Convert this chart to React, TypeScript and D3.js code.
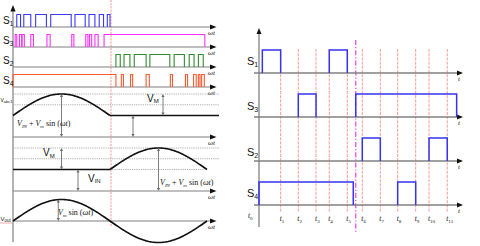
import React from "react";
import * as d3 from "d3";

// left panel: switching pulses over one period, ωt in degrees
const s1Pulses = [[7, 14], [20, 33], [42, 62], [70, 108], [115, 134], [141, 152], [160, 168], [175, 180]];
const s3Pulses = [[4, 7], [12, 16], [17, 21], [33, 38], [63, 69], [109, 113], [135, 139], [142, 146], [152, 158], [169, 356]];
const s2Pulses = [[191, 199], [206, 217], [225, 247], [254, 291], [299, 318], [327, 336], [344, 353]];
const s4Pulses = [[0, 191], [201, 205], [218, 222], [247, 253], [292, 296], [320, 324], [335, 340], [344, 347], [350, 355]];
const leftRows = ["1", "3", "2", "4"];
const leftColors = ["#3a3aff", "#ff30ff", "#2e8b2e", "#ff5a30"];

// waveform levels (relative units)
const vIn = 1;
const vM = 1;

// right panel: time instants t0..t11 and switch states
const tInstants = [0, 2.21, 4.01, 5.82, 7.17, 9.01, 10.54, 12.38, 14.15, 15.99, 17.35, 19.21];
const tSwitch = 9.87;
const rightRows = ["1", "3", "2", "4"];
const rS1 = [[0.34, 2.21], [7.17, 9.01]];
const rS3 = [[4.01, 5.82], [9.87, 20.17]];
const rS2 = [[10.54, 12.38], [17.35, 19.21]];
const rS4 = [[0, 9.62], [14.15, 15.99]];

const GRAY = "#808080";
const DIM = "#6e6e6e";
const MATH = "'Liberation Serif', serif";
const SANS = "'Liberation Sans', Arial, sans-serif";

const pulsePath = (pulses: number[][], x: (v: number) => number, base: number, h: number) =>
  pulses.map(([a, b]) => `M${x(a)},${base}V${base - h}H${x(b)}V${base}`).join("");

// arrowhead triangle pointing in a direction
const head = (x: number, y: number, dir: string, len: number, half: number) => {
  if (dir === "r") return `M${x},${y}L${x - len},${y - half}L${x - len},${y + half}Z`;
  if (dir === "u") return `M${x},${y}L${x - half},${y + len}L${x + half},${y + len}Z`;
  return `M${x},${y}L${x - half},${y - len}L${x + half},${y - len}Z`;
};

const DimArrow = ({ x, y1, y2 }: { x: number; y1: number; y2: number }) => (
  <g>
    <line x1={x} x2={x} y1={y1 + 2} y2={y2 - 2} stroke={DIM} strokeWidth={0.9} />
    <path d={head(x, y1, "u", 3, 1.6)} fill={DIM} />
    <path d={head(x, y2, "d", 3, 1.6)} fill={DIM} />
  </g>
);

const MathLabel = ({ x, y, sub }: { x: number; y: number; sub: boolean }) => (
  <text x={x} y={y} fontFamily={MATH} fontSize={8} fontStyle="italic" fill="#111">
    {sub ? (
      <>
        V<tspan fontSize={5} dy={1.5}>IN</tspan>
        <tspan dy={-1.5} fontStyle="normal"> + </tspan>
      </>
    ) : null}
    V<tspan fontSize={5} dy={1.5}>m</tspan>
    <tspan dy={-1.5} fontStyle="normal"> sin </tspan>
    <tspan fontStyle="normal">(</tspan>ωt<tspan fontStyle="normal">)</tspan>
  </text>
);

export default function App() {
  // ---- left panel scales
  const xL = d3.scaleLinear().domain([0, 360]).range([13, 207]);
  const rowL = d3.scalePoint<string>().domain(leftRows).range([27, 87]);
  const axisEnd = 216.5;
  const pulseSets = [s1Pulses, s3Pulses, s2Pulses, s4Pulses];

  const y1 = d3.scaleLinear().domain([0, 2]).range([137, 94]);
  const y2 = d3.scaleLinear().domain([0, 2]).range([191, 148]);
  const y3 = d3.scaleLinear().domain([-1, 1]).range([242.5, 199.5]);

  const rad = (d: number) => (d * Math.PI) / 180;
  const curve1 = d3.line<number>().x((d) => xL(d)).y((d) => y1(vIn + vM * Math.sin(rad(d))))(d3.range(0, 181, 2));
  const curve2 = d3.line<number>().x((d) => xL(d)).y((d) => y2(vIn - vM * Math.sin(rad(d))))(d3.range(180, 361, 2));
  const curve3 = d3.line<number>().x((d) => xL(d)).y((d) => y3(vM * Math.sin(rad(d))))(d3.range(0, 361, 2));

  // ---- right panel scales
  const xR = d3.scaleLinear().domain([0, 20]).range([259, 455]);
  const rowR = d3.scalePoint<string>().domain(rightRows).range([73, 205]);
  const rSets = [rS1, rS3, rS2, rS4];
  const rLabelOff = [8, 7, 5, 8];

  return (
    <svg width={480} height={246} style={{ position: "absolute", left: 0, top: 0, background: "#fff" }}>
      {/* ================= LEFT PANEL ================= */}
      <line x1={xL(180) + 1} x2={xL(180) + 1} y1={0} y2={227} stroke="#ff9090" strokeWidth={1} strokeDasharray="2,1.2" />
      <line x1={13} x2={13} y1={10} y2={242} stroke={GRAY} strokeWidth={1.2} />
      <path d={head(13, 5, "u", 6.5, 2.6)} fill="#111" />

      {leftRows.map((r, i) => {
        const base = rowL(r)!;
        return (
          <g key={"l" + r}>
            <line x1={13} x2={axisEnd - 5} y1={base} y2={base} stroke={GRAY} strokeWidth={1.2} />
            <path d={head(axisEnd, base, "r", 6.5, 2.6)} fill="#111" />
            <path d={pulsePath(pulseSets[i], xL, base, 12.5)} fill="none" stroke={leftColors[i]} strokeWidth={1.1} />
            <text x={3} y={base - 3} fontFamily={SANS} fontSize={10} fill="#111">
              S<tspan fontSize={6.5} dy={1.5}>{r}</tspan>
            </text>
            <text x={208} y={base + 7.5} fontFamily={MATH} fontSize={7} fontStyle="italic" fill="#111">ωt</text>
          </g>
        );
      })}

      {/* panel 1: V_abc1 */}
      {[2, 1.5].map((v) => (
        <line key={"d1" + v} x1={13} x2={219} y1={y1(v)} y2={y1(v)} stroke="#999" strokeWidth={0.8} strokeDasharray="1.2,1" />
      ))}
      <line x1={13} x2={axisEnd - 5} y1={y1(0)} y2={y1(0)} stroke={GRAY} strokeWidth={1.2} />
      <path d={head(axisEnd, y1(0), "r", 6.5, 2.6)} fill="#111" />
      <text x={208} y={y1(0) + 7.5} fontFamily={MATH} fontSize={7} fontStyle="italic" fill="#111">ωt</text>
      <path d={curve1 ?? ""} fill="none" stroke="#111" strokeWidth={1.6} />
      <line x1={xL(180)} x2={219} y1={y1(vIn)} y2={y1(vIn)} stroke="#111" strokeWidth={1.6} />
      <text x={0.5} y={102} fontFamily={SANS} fontSize={5} fill="#111">
        V<tspan fontSize={4} dy={1}>abc1</tspan>
      </text>
      <DimArrow x={xL(90)} y1={y1(vIn + vM)} y2={y1(0)} />
      <MathLabel x={17} y={126} sub={true} />
      <DimArrow x={163} y1={y1(vIn + vM)} y2={y1(vIn)} />
      <text x={147} y={101.5} fontFamily={SANS} fontSize={10} fill="#111">
        V<tspan fontSize={6} dy={1.5}>M</tspan>
      </text>
      <DimArrow x={133} y1={y1(vIn)} y2={y1(0)} />

      {/* panel 2 */}
      {[2, 1.5].map((v) => (
        <line key={"d2" + v} x1={13} x2={219} y1={y2(v)} y2={y2(v)} stroke="#999" strokeWidth={0.8} strokeDasharray="1.2,1" />
      ))}
      <line x1={xL(180)} x2={xL(356)} y1={y2(vIn)} y2={y2(vIn)} stroke="#999" strokeWidth={0.8} strokeDasharray="1.2,1" />
      <line x1={13} x2={axisEnd - 5} y1={y2(0)} y2={y2(0)} stroke={GRAY} strokeWidth={1.2} />
      <path d={head(axisEnd, y2(0), "r", 6.5, 2.6)} fill="#111" />
      <text x={208} y={y2(0) + 7.5} fontFamily={MATH} fontSize={7} fontStyle="italic" fill="#111">ωt</text>
      <line x1={13} x2={xL(180)} y1={y2(vIn)} y2={y2(vIn)} stroke="#111" strokeWidth={1.6} />
      <path d={curve2 ?? ""} fill="none" stroke="#111" strokeWidth={1.6} />
      <DimArrow x={xL(90)} y1={y2(vIn + vM)} y2={y2(vIn)} />
      <text x={43} y={156} fontFamily={SANS} fontSize={10} fill="#111">
        V<tspan fontSize={6} dy={1.5}>M</tspan>
      </text>
      <DimArrow x={78} y1={y2(vIn)} y2={y2(0)} />
      <text x={88} y={181.5} fontFamily={SANS} fontSize={10} fill="#111">
        V<tspan fontSize={6} dy={1.5}>IN</tspan>
      </text>
      <DimArrow x={xL(270)} y1={y2(vIn + vM)} y2={y2(0)} />
      <MathLabel x={160} y={185} sub={true} />

      {/* panel 3: Vout */}
      <line x1={13} x2={axisEnd - 5} y1={y3(0)} y2={y3(0)} stroke={GRAY} strokeWidth={1.2} />
      <path d={head(axisEnd, y3(0), "r", 6.5, 2.6)} fill="#111" />
      <text x={208} y={y3(0) + 7.5} fontFamily={MATH} fontSize={7} fontStyle="italic" fill="#111">ωt</text>
      <path d={curve3 ?? ""} fill="none" stroke="#111" strokeWidth={1.6} />
      <DimArrow x={xL(84)} y1={y3(vM)} y2={y3(0)} />
      <MathLabel x={58} y={215} sub={false} />
      <text x={0.5} y={220.5} fontFamily={SANS} fontSize={6} fill="#111">
        V<tspan fontSize={4.5} dy={1}>out</tspan>
      </text>
      <line x1={0.5} x2={12} y1={223} y2={223} stroke="#e03030" strokeWidth={0.8} strokeDasharray="1,1" />

      {/* ================= RIGHT PANEL ================= */}
      {tInstants.slice(1).map((t) => (
        <line key={"rt" + t} x1={xR(t)} x2={xR(t)} y1={49} y2={212} stroke="#ff8a8a" strokeWidth={0.9} strokeDasharray="3,1.2" />
      ))}
      <line x1={xR(tSwitch)} x2={xR(tSwitch)} y1={40} y2={232} stroke="#ee5cee" strokeWidth={1.4} strokeDasharray="5,2,1.2,2" />
      <line x1={259} x2={259} y1={32} y2={227} stroke={GRAY} strokeWidth={1.3} />
      <path d={head(259, 28, "u", 6, 2.5)} fill="#111" />

      {rightRows.map((r, i) => {
        const base = rowR(r)!;
        return (
          <g key={"r" + r}>
            <line x1={254} x2={458} y1={base} y2={base} stroke={GRAY} strokeWidth={1.3} />
            <path d={head(463, base, "r", 6, 2.5)} fill="#111" />
            <path d={pulsePath(rSets[i], xR, base, 23)} fill="none" stroke="#3535ee" strokeWidth={1.5} />
            <text x={247} y={base - rLabelOff[i]} fontFamily={SANS} fontSize={11} fill="#111">
              S<tspan fontSize={7} dy={1.5}>{r}</tspan>
            </text>
            <text x={458} y={base + 8} fontFamily={MATH} fontSize={7} fontStyle="italic" fill="#111">t</text>
          </g>
        );
      })}

      {tInstants.map((t, i) => (
        <text key={"tl" + i} x={i === 0 ? 248 : xR(t) - 1} y={i === 0 ? 218 : 221} fontFamily={MATH} fontSize={7.5} fontStyle="italic" fill="#111">
          t<tspan fontSize={5} dy={1.5} fontStyle="normal">{i}</tspan>
        </text>
      ))}
    </svg>
  );
}
